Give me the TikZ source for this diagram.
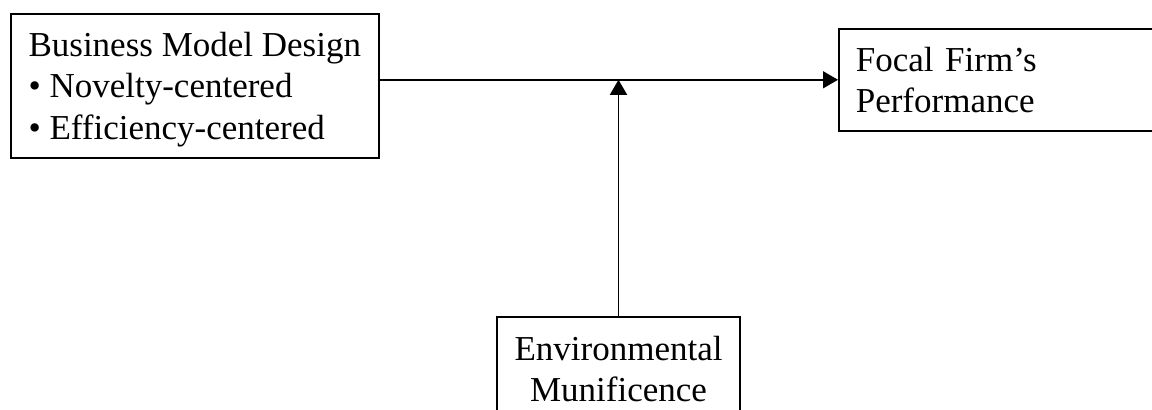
\documentclass[tikz,border=0pt]{standalone}
\usepackage{fontspec}
\setmainfont{Liberation Serif}
\usepackage{tikz}
\usetikzlibrary{arrows.meta}
\usetikzlibrary{calc}
\tikzset{>={Triangle[length=7.5pt,width=8.5pt]}}
\tikzstyle{box}=[draw,line width=0.8pt,inner sep=0pt,
                 font=\fontsize{17.5}{20.75}\selectfont]
\tikzstyle{link}=[->,line width=0.8pt]

\begin{document}
\begin{tikzpicture}[x=0.5pt,y=-0.5pt]
  \useasboundingbox (0,0) rectangle (1152,410);
  
  % BOXES
  \node[box,anchor=north west,minimum width=184pt,minimum height=72pt,
        align=left,text depth=0pt] (design) at (10,13)
    {Business Model Design\\
     \textbullet{} Novelty-centered\\
     \textbullet{} Efficiency-centered};
  \node[box,anchor=north west,minimum height=51pt,inner xsep=8.5pt,
        text width=150pt,align=left] (perf) at (838,28)
    {Focal Firm's\\Performance};
  \node[box,anchor=north,minimum width=121.5pt,minimum height=52pt,
        align=center] (munif) at (618.5,316)
    {Environmental\\Munificence};
  
  % ARROWS
  \draw[link] (design.east |- perf.west) -- (perf.west);
  \draw[link] (munif.north) -- (munif.north |- perf.west);
  
\end{tikzpicture}
\end{document}
